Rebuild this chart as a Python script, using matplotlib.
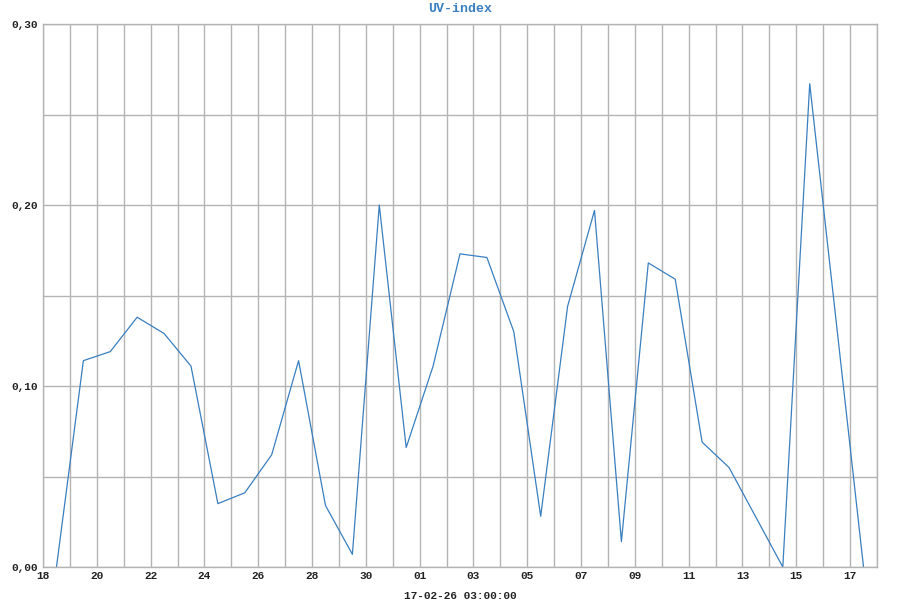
import matplotlib
matplotlib.use("Agg")
import matplotlib.pyplot as plt
import matplotlib.dates as mdates
import pandas as pd

# UV-index, pomiary w poludnie
dates = ["2017-01-18 12:00", "2017-01-19 12:00", "2017-01-20 12:00", "2017-01-21 12:00",
         "2017-01-22 12:00", "2017-01-23 12:00", "2017-01-24 12:00", "2017-01-25 12:00",
         "2017-01-26 12:00", "2017-01-27 12:00", "2017-01-28 12:00", "2017-01-29 12:00",
         "2017-01-30 12:00", "2017-01-31 12:00", "2017-02-01 12:00", "2017-02-02 12:00",
         "2017-02-03 12:00", "2017-02-04 12:00", "2017-02-05 12:00", "2017-02-06 12:00",
         "2017-02-07 12:00", "2017-02-08 12:00", "2017-02-09 12:00", "2017-02-10 12:00",
         "2017-02-11 12:00", "2017-02-12 12:00", "2017-02-14 12:00", "2017-02-15 12:00",
         "2017-02-17 12:00"]
uv = [0.000, 0.114, 0.119, 0.138, 0.129, 0.111, 0.035, 0.041,
      0.062, 0.114, 0.034, 0.007, 0.200, 0.066, 0.111, 0.173,
      0.171, 0.130, 0.028, 0.144, 0.197, 0.014, 0.168, 0.159,
      0.069, 0.055, 0.000, 0.267, 0.000]
y_ticks = [0.0, 0.10, 0.20, 0.30]
x_range = ["2017-01-18", "2017-02-18"]
x_label = "17-02-26 03:00:00"

x = pd.to_datetime(dates)
x0, x1 = pd.to_datetime(x_range[0]), pd.to_datetime(x_range[1])
font = "Liberation Mono"
grid_c = "#b4b4b4"

fig = plt.figure(figsize=(9, 6), dpi=100)
ax = fig.add_axes([0.0478, 0.055, 0.9266, 0.905])

ax.plot(x, uv, color="#3a7fbf", linewidth=0.9)

ax.set_xlim(x0, x1)
ax.set_ylim(0, 0.30)

# etykiety co 2 dni, siatka co dzien
ax.set_xticks(pd.date_range(x0, x1 - pd.Timedelta(days=1), freq="2D"))
ax.xaxis.set_major_formatter(mdates.DateFormatter("%d"))
ax.xaxis.set_minor_locator(mdates.DayLocator())
ax.set_yticks(y_ticks)
ax.set_yticks([0.05, 0.15, 0.25], minor=True)
ax.yaxis.set_major_formatter(plt.FuncFormatter(lambda v, p: f"{v:.2f}".replace(".", ",")))

ax.grid(True, which="both", color=grid_c, linewidth=1)
ax.set_axisbelow(True)
for s in ax.spines.values():
    s.set_color(grid_c)
    s.set_linewidth(1)
ax.tick_params(which="both", length=0)
ax.tick_params(axis="x", pad=3)
ax.tick_params(axis="y", pad=4)
for lab in ax.get_xticklabels() + ax.get_yticklabels():
    lab.set_fontfamily(font)
    lab.set_fontweight("bold")
    lab.set_fontsize(8)
    lab.set_color("#222222")

ax.set_title("UV-index", fontfamily=font, fontweight="bold", fontsize=9.5,
             color="#3a7fbf", pad=9)
ax.set_xlabel(x_label, fontfamily=font, fontweight="bold", fontsize=8,
              color="#222222", labelpad=7)

fig.savefig("out.png", dpi=100)
